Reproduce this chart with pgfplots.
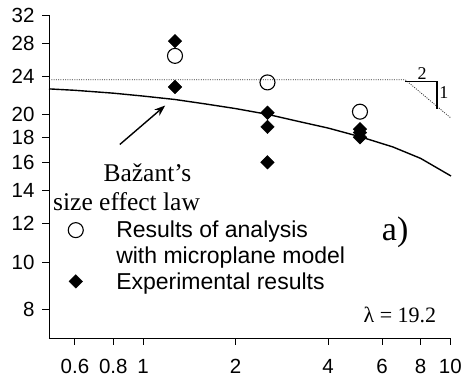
\documentclass[border=0pt]{standalone}
\usepackage{fontspec}
\setmainfont{Liberation Serif}
\setsansfont{Liberation Sans}
\usepackage{pgfplots}
\pgfplotsset{compat=1.18}
\usetikzlibrary{arrows.meta}
\begin{document}
\begin{tikzpicture}
\useasboundingbox (-49bp,-43bp) rectangle (413bp,338bp);
\begin{axis}[
  at={(0,0)}, anchor=south west,
  width=402bp, height=323bp, scale only axis,
  xmode=log, ymode=log,
  xmin=0.494, xmax=10.05, ymin=7, ymax=32,
  axis x line*=bottom, axis y line*=left,
  axis line style={line width=0.9bp},
  xtick={0.6,0.8,1,2,4,6,8,10},
  xticklabels={0.6,0.8,1,2,4,6,8,10},
  ytick={8,10,12,14,16,18,20,24,28,32},
  yticklabels={8,10,12,14,16,18,20,24,28,32},
  minor xtick={}, minor ytick={},
  tick align=outside, major tick length=7bp,
  tick style={line width=0.9bp, black},
  tick label style={font=\sffamily\fontsize{20.5bp}{22bp}\selectfont},
  xticklabel style={yshift=-11bp},
  yticklabel style={xshift=-4bp},
  /pgf/number format/assume math mode=true,
  clip=false,
  legend cell align=left,
  legend style={at={(0.0375,0.375)}, anchor=north west, draw=none, fill=none,
    font=\sffamily\fontsize{23bp}{26bp}\selectfont, row sep=3.5bp,
    /tikz/every odd column/.append style={column sep=31bp}},
]
% Bazant size effect law
\addplot[black, line width=1.4bp, forget plot] coordinates {
 (0.494,22.6) (0.6,22.45) (0.8,22.15) (1.0,21.85) (1.27,21.5) (1.6,21.05)
 (2.0,20.6) (2.54,20.05) (3.2,19.4) (4.0,18.8) (5.08,18.05) (6.5,17.2)
 (8.0,16.3) (10.05,15.0)};
% strength / LEFM asymptotes
\addplot[black!80, line width=0.8bp, dash pattern=on 1bp off 1.3bp, forget plot] coordinates {
 (0.494,23.6) (7.13,23.6) (10.05,19.7)};
% slope triangle
\addplot[black, line width=1.1bp, forget plot] coordinates {
 (7.13,23.4) (9.05,23.4) (9.05,20.6)};
% microplane results
\addplot[only marks, mark=o, mark size=7.5bp, mark options={line width=1.1bp, fill=white, draw=black}] coordinates {
 (1.27,26.4) (2.54,23.3) (5.08,20.3)};
\addlegendentry{Results of analysis}
\addlegendimage{empty legend}
\addlegendentry{with microplane model}
% experiments
\addplot[only marks, mark=square*, mark size=4.8bp, mark options={rotate=45, fill=black, draw=black}] coordinates {
 (1.27,28.3) (1.27,22.8) (2.54,20.2) (2.54,18.9) (2.54,16.0)
 (5.08,18.7) (5.08,18.4) (5.08,18.0)};
\addlegendentry{Experimental results}
% annotations
\draw[-{Stealth[length=11bp,width=8bp]}, line width=1.4bp] (axis cs:0.84,17.4) -- (axis cs:1.18,20.9);
\node[font=\fontsize{25.5bp}{28bp}\selectfont] at (rel axis cs:0.245,0.511) {Bažant’s};
\node[font=\fontsize{25.5bp}{28bp}\selectfont] at (rel axis cs:0.193,0.421) {size effect law};
\node[font=\fontsize{34bp}{36bp}\selectfont] at (rel axis cs:0.861,0.328) {a)};
\node[font=\fontsize{22bp}{24bp}\selectfont] at (rel axis cs:0.873,0.071) {λ = 19.2};
\node[font=\fontsize{18bp}{20bp}\selectfont] at (rel axis cs:0.928,0.820) {2};
\node[font=\fontsize{18bp}{20bp}\selectfont] at (rel axis cs:0.982,0.759) {1};
\end{axis}
\end{tikzpicture}
\end{document}
